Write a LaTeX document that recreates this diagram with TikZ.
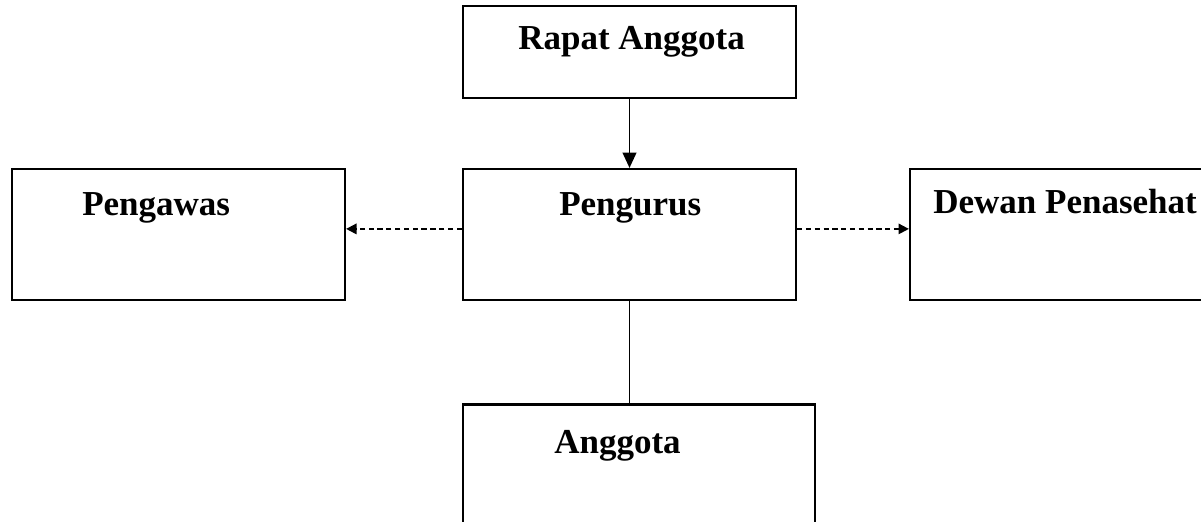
\documentclass[tikz,border=0pt]{standalone}
\usepackage{fontspec}
\setmainfont{Liberation Serif}
\usetikzlibrary{arrows.meta,positioning,calc}

\begin{document}
\begin{tikzpicture}[
        x=0.025cm, y=-0.025cm,
        box/.style={
            draw=black,
            line width=1.5pt,
            minimum width=8.325cm,
            minimum height=3.275cm,
            inner sep=0pt
        },
        title/.style={
            anchor=base west,
            inner sep=0pt,
            font=\fontsize{24.9}{30}\selectfont\bfseries
        },
        line/.style={draw=black, line width=1.3pt},
        solidarrow/.style={line, -{Triangle[length=0.38cm,width=0.34cm]}},
        dasharrow/.style={line, dash pattern=on 0.13cm off 0.09cm,
            -{Triangle[length=0.26cm,width=0.26cm]}}
    ]
        \useasboundingbox (0,0) rectangle (1201,521);
        \clip (0,0) rectangle (1201,521);

        \node[box, minimum height=2.3cm] (rapat) at (629.5,52) {};
        \node[box] (pengurus) at (629.5,234.5) {};
        \node[box] (pengawas) at (178.5,234.5) {};
        \node[box] (dewan) at (1076.5,234.5) {};
        \node[box, minimum width=8.8cm] (anggota) at (639,470) {};

        \node[title] (rapat-t) at (518,49) {Rapat Anggota};
        \node[title] (pengurus-t) at (559,215) {Pengurus};
        \node[title] (pengawas-t) at (82,215) {Pengawas};
        \node[title] (dewan-t) at (933,213) {Dewan Penasehat};
        \node[title] (anggota-t) at (554,453) {Anggota};

        \draw[solidarrow] (rapat.south) -- (pengurus.north);
        \draw[dasharrow] ([yshift=0.14cm]pengurus.west) -- ([yshift=0.14cm]pengawas.east);
        \draw[dasharrow] ([yshift=0.14cm]pengurus.east) -- ([yshift=0.14cm]dewan.west);
        \draw[line] (pengurus.south) -- (pengurus.south |- anggota.north);
    \end{tikzpicture}
\end{document}
